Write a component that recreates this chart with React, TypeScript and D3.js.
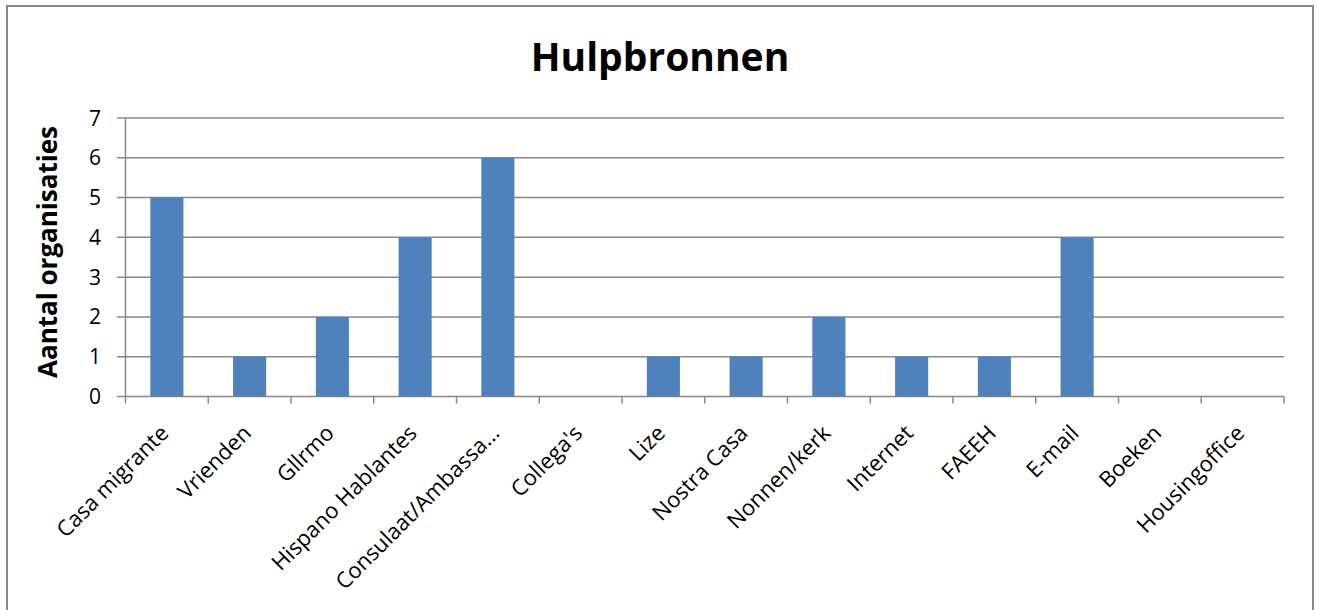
import React from "react";
import * as d3 from "d3";

const categories = [
  "Casa migrante",
  "Vrienden",
  "Gllrmo",
  "Hispano Hablantes",
  "Consulaat/Ambassa...",
  "Collega's",
  "Lize",
  "Nostra Casa",
  "Nonnen/kerk",
  "Internet",
  "FAEEH",
  "E-mail",
  "Boeken",
  "Housingoffice",
];
const values = [5, 1, 2, 4, 6, 0, 1, 1, 2, 1, 1, 4, 0, 0];
const yTicks = [0, 1, 2, 3, 4, 5, 6, 7];

const W = 1319;
const H = 610;
const left = 125.5;
const right = 1284;
const top = 118;
const bottom = 396.5;
const font = "'Open Sans', sans-serif";

export default function App() {
  const x = d3.scaleBand<string>().domain(categories).range([left, right]).paddingInner(0.6).paddingOuter(0.3);
  const xb = d3.scaleBand<string>().domain(categories).range([left, right]);
  const y = d3.scaleLinear().domain([0, 7]).range([bottom, top]);
  const grid = "#888888";
  return (
    <svg width={W} height={H} style={{ position: "absolute", left: 0, top: 0 }}>
      <rect x={7} y={6} width={1306} height={610} fill="white" stroke="#888" strokeWidth={2} />
      <text x={660} y={71} textAnchor="middle" fontFamily={font} fontWeight="bold" fontSize={39}>
        Hulpbronnen
      </text>
      <text
        transform={`translate(57,252) rotate(-90)`}
        textAnchor="middle"
        fontFamily={font}
        fontWeight="bold"
        fontSize={26}
      >
        Aantal organisaties
      </text>
      {yTicks.map((t) => (
        <g key={t}>
          <line x1={117} x2={right} y1={y(t)} y2={y(t)} stroke={grid} strokeWidth={1.5} />
          <text x={101} y={y(t) + 7.5} textAnchor="end" fontFamily={font} fontSize={21}>
            {t}
          </text>
        </g>
      ))}
      <line x1={left} x2={left} y1={top} y2={bottom} stroke={grid} strokeWidth={1.5} />
      {categories.map((c, i) => (
        <rect key={c} x={x(c)} y={y(values[i])} width={x.bandwidth()} height={bottom - y(values[i])} fill="#4F81BD" />
      ))}
      {d3.range(categories.length + 1).map((i) => {
        const xx = left + i * xb.step();
        return <line key={i} x1={xx} x2={xx} y1={bottom} y2={bottom + 7} stroke={grid} strokeWidth={1.5} />;
      })}
      {categories.map((c) => {
        const cx = (xb(c) as number) + xb.bandwidth() / 2;
        return (
          <text
            key={c}
            transform={`translate(${cx + 3},${bottom + 38}) rotate(-45)`}
            textAnchor="end"
            fontFamily={font}
            fontSize={22}
          >
            {c}
          </text>
        );
      })}
    </svg>
  );
}
